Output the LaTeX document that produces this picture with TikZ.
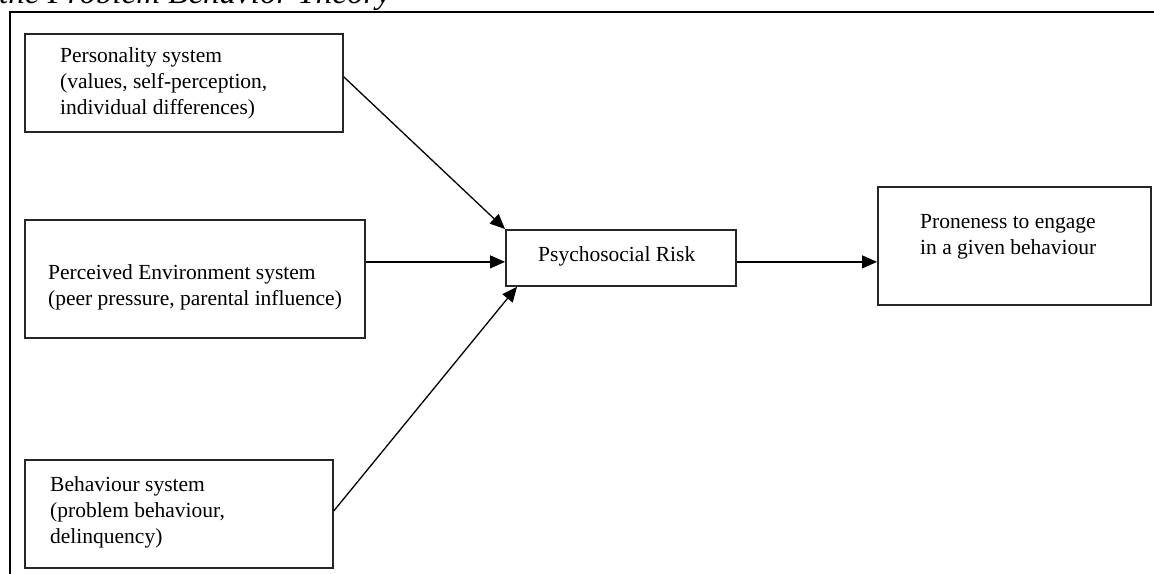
\documentclass[tikz,border=0pt]{standalone}
\usepackage{fontspec}
\setmainfont{Liberation Serif}
\usetikzlibrary{arrows.meta,calc}
\begin{document}
\begin{tikzpicture}[x=1pt,y=-1pt,
  box/.style={draw=black!85,line width=1.8pt,inner sep=0pt,anchor=north west},
  txt/.style={inner sep=0pt,anchor=north west,align=left,font=\fontsize{21.5}{26}\selectfont},
  conn/.style={line width=1.3pt,-{Triangle[length=15pt,width=13pt]}}]
\useasboundingbox (0,0) rectangle (1154,573);
\clip (0,0) rectangle (1154,573);
% title (cut off at the top, as in the reference)
\node[inner sep=0pt,anchor=base west,font=\fontsize{33}{36}\selectfont\itshape] (title) at (-1,3) {the Problem Behavior Theory};
% outer frame
\coordinate (fbl) at (10,575);
\coordinate (ftl) at (10,12);
\coordinate (ftr) at (1156,12);
\draw[line width=1.8pt] (fbl) -- (ftl) -- (ftr);
% boxes
\node[box,minimum width=318pt,minimum height=98pt] (p) at (24,33) {};
\node[box,minimum width=340pt,minimum height=118pt] (e) at (24,219) {};
\node[box,minimum width=308pt,minimum height=108pt] (b) at (24,459) {};
\node[box,minimum width=230pt,minimum height=56pt] (r) at (505,229) {};
\node[box,minimum width=273pt,minimum height=118pt] (n) at (877,186) {};
% texts
\node[txt] (pt) at (60,47) {Personality system\\(values, self-perception,\\individual differences)};
\node[txt] (et) at (48,264) {Perceived Environment system\\(peer pressure, parental influence)};
\node[txt] (bt) at (50,476) {Behaviour system\\(problem behaviour,\\delinquency)};
\node[txt] (rt) at (538,246) {Psychosocial Risk};
\node[txt] (nt) at (920,214) {Proneness to engage\\in a given behaviour};
% connectors
\coordinate (rin) at ([yshift=-4pt]r.west);
\coordinate (rout) at ([yshift=-4pt]r.east);
\draw[conn] ([yshift=6pt]p.east) -- (r.north west);
\draw[conn] (e.east |- rin) -- (rin);
\draw[conn] ([yshift=3pt]b.east) -- ([xshift=12pt]r.south west);
\draw[conn] (rout) -- (n.west |- rout);
\end{tikzpicture}
\end{document}
